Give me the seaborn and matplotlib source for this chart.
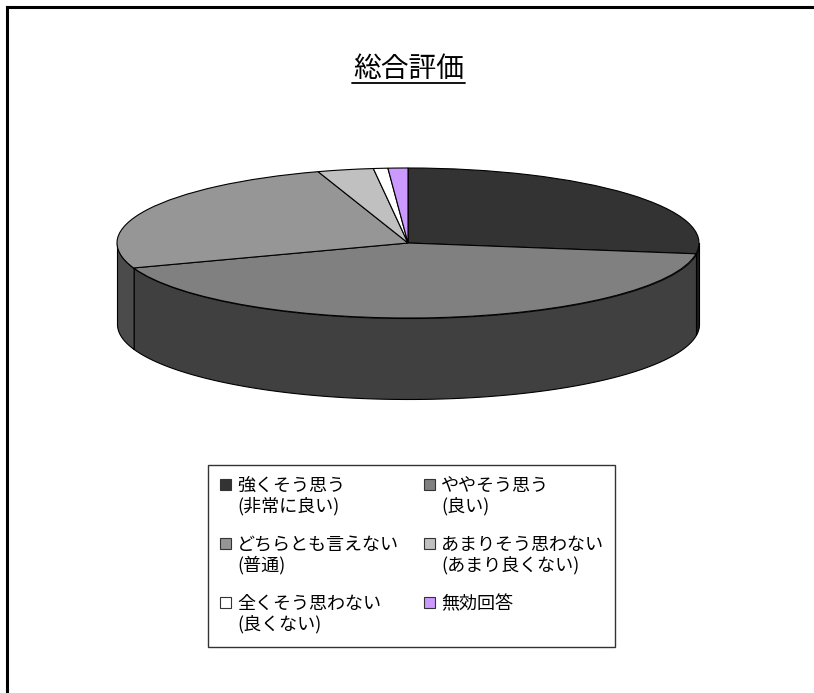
import numpy as np
import matplotlib
matplotlib.use("Agg")
import matplotlib.pyplot as plt
from matplotlib.patches import Rectangle
import seaborn as sns

title = "総合評価"
labels = ["強くそう思う\n(非常に良い)", "ややそう思う\n(良い)",
          "どちらとも言えない\n(普通)", "あまりそう思わない\n(あまり良くない)",
          "全くそう思わない\n(良くない)", "無効回答"]
values = [27.3, 42.3, 25.4, 3.1, 0.8, 1.1]
top_colors = ["#333333", "#808080", "#969696", "#C0C0C0", "#FFFFFF", "#CC99FF"]
side_colors = ["#191919", "#404040", "#4B4B4B", "#606060", "#808080", "#664C80"]

sns.set_theme(style="white")
plt.rcParams["font.family"] = ["Noto Sans CJK JP", "DejaVu Sans"]

W, H = 814, 693
cx, cy, rx, ry, depth = 408, 243, 291, 75, 81

fig = plt.figure(figsize=(W / 100, H / 100), dpi=100, facecolor="white")

# border: only top and left show in the source
bg = fig.add_axes([7 / W, 0, 1, 1 - 7 / H])
bg.set_xticks([])
bg.set_yticks([])
sns.despine(ax=bg, top=False, left=False, right=True, bottom=True)
bg.spines["top"].set_color("black")
bg.spines["left"].set_color("black")
bg.spines["top"].set_linewidth(2.2)
bg.spines["left"].set_linewidth(2.2)

ax = fig.add_axes([0, 0, 1, 1])
ax.patch.set_alpha(0)

# side of the cylinder, lower half of each slice only
d = depth / ry
edges = 90 - 360 * np.cumsum([0] + values) / sum(values)
for i, col in enumerate(side_colors):
    hi = min(edges[i], 0)
    lo = max(edges[i + 1], -180)
    if hi <= lo:
        continue
    th = np.radians(np.linspace(hi, lo, 120))
    x, y = np.cos(th), np.sin(th)
    ax.fill_between(x, y, y - d, facecolor=col, edgecolor="black", linewidth=0.8)

ax.pie(values, colors=top_colors, startangle=90, counterclock=False, radius=1,
       wedgeprops={"edgecolor": "black", "linewidth": 0.8})
ax.set_aspect("auto")
ax.set_xlim(-cx / rx, (W - cx) / rx)
ax.set_ylim((cy - H) / ry, cy / ry)

# overlay in pixels for title and legend
ov = fig.add_axes([0, 0, 1, 1])
ov.patch.set_alpha(0)
ov.set_xlim(0, W)
ov.set_ylim(H, 0)
ov.axis("off")

ov.text(409, 69, title, fontsize=20, ha="center", va="center", color="black")
ov.plot([352, 465], [82.5, 82.5], color="black", lw=1.3)

ov.add_patch(Rectangle((208, 465), 407, 182, facecolor="white", edgecolor="#333333", lw=1))
for i, (lab, col) in enumerate(zip(labels, top_colors)):
    row, c = i // 2, i % 2
    mx = 220 + 204 * c
    my = 479 + 59 * row
    ov.add_patch(Rectangle((mx, my), 11, 11, facecolor=col, edgecolor="#333333", lw=0.8))
    ov.text(mx + 17, my - 2, lab, fontsize=13, va="top", ha="left", color="black", linespacing=1.15)

fig.savefig("out.png", dpi=100)
